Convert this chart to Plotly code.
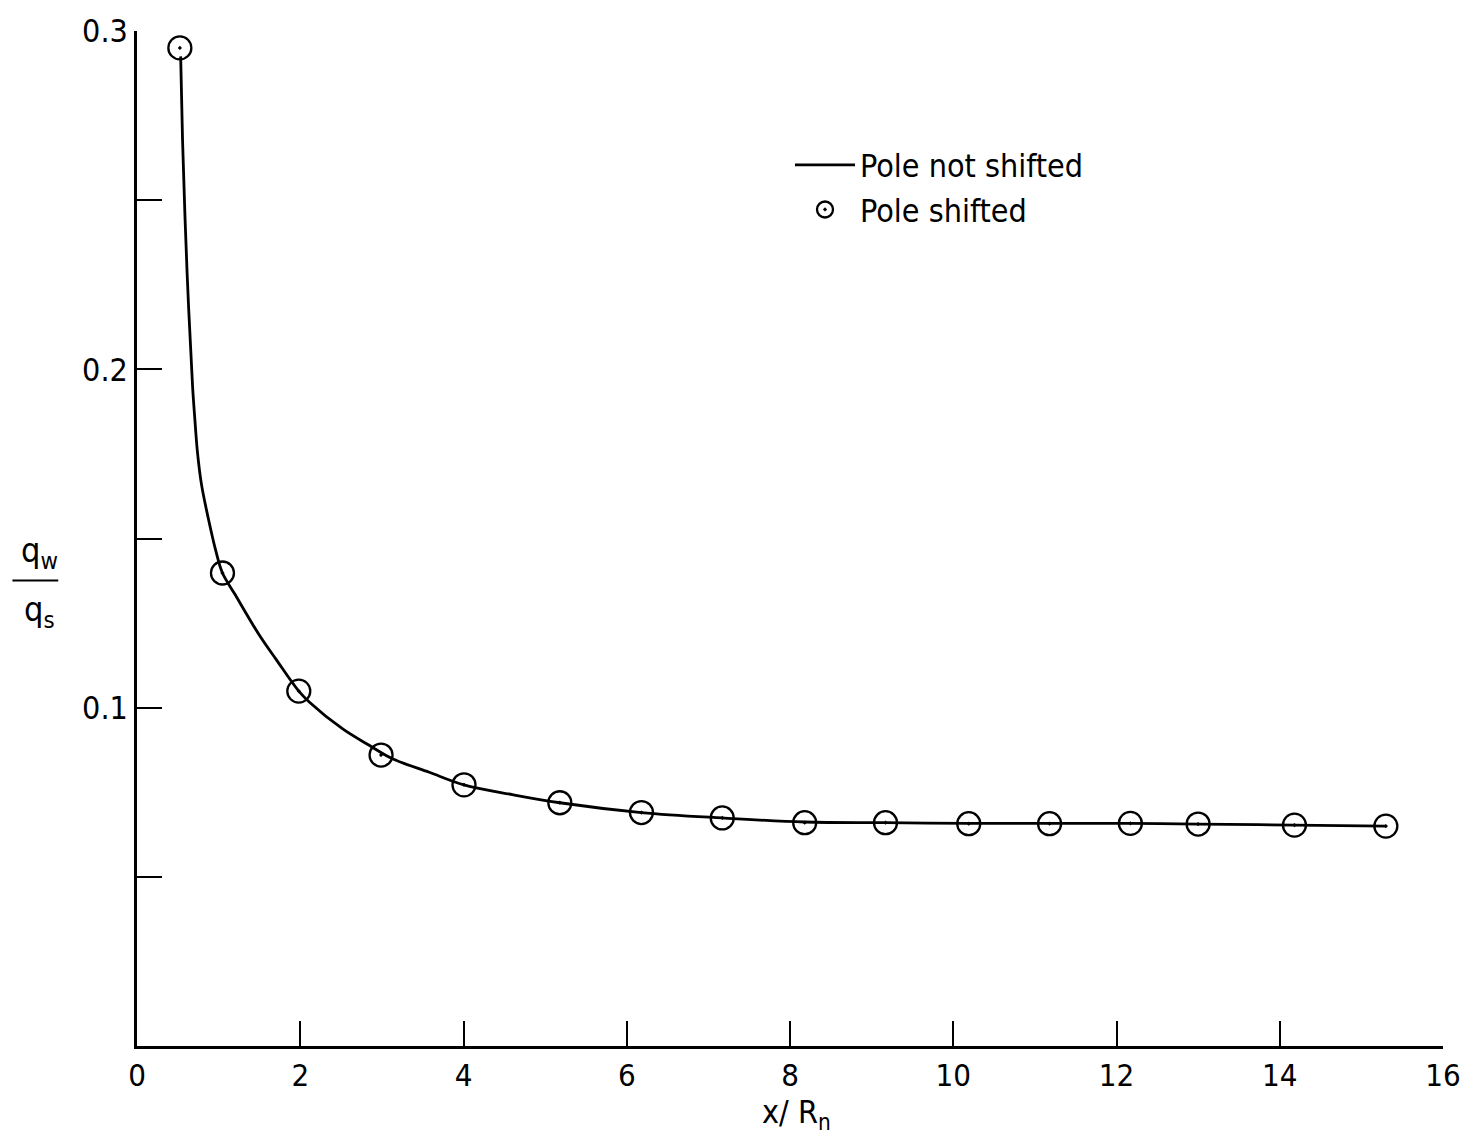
import plotly.graph_objects as go

# Curve: "Pole not shifted"
curve_x = [0.535, 0.558, 0.614, 0.68, 0.708, 0.74, 0.79, 0.871, 0.965, 1.047, 1.2, 1.502, 1.706, 1.982, 2.11, 2.52, 2.85, 3.13, 3.58, 4.006, 4.6, 5.18, 6.18, 7.17, 8.18, 9.17, 10.19, 11.18, 12.17, 13.0, 14.18, 15.30]
curve_y = [0.2925, 0.2677, 0.2284, 0.1953, 0.1855, 0.1757, 0.1660, 0.1562, 0.1464, 0.1398, 0.1335, 0.1213, 0.1142, 0.1049, 0.1017, 0.0937, 0.0888, 0.0849, 0.0809, 0.0772, 0.0743, 0.0719, 0.0690, 0.0674, 0.0662, 0.0660, 0.0658, 0.0658, 0.0658, 0.0656, 0.0653, 0.0650]

# Points: "Pole shifted"
pts_x = [0.525, 1.047, 1.982, 2.99, 4.006, 5.18, 6.18, 7.17, 8.18, 9.17, 10.19, 11.18, 12.17, 13.0, 14.18, 15.30]
pts_y = [0.2950, 0.1398, 0.1049, 0.0860, 0.0772, 0.0719, 0.0690, 0.0674, 0.0660, 0.0660, 0.0657, 0.0657, 0.0658, 0.0656, 0.0653, 0.0650]

x_ticks = [0, 2, 4, 6, 8, 10, 12, 14, 16]
y_ticks = [0.1, 0.2, 0.3]
y_ticktext = ["0.1", "0.2", "0.3"]
y_minor = [0.05, 0.15, 0.25]

FONT = "DejaVu Sans Condensed, DejaVu Sans, sans-serif"

fig = go.Figure()
fig.add_trace(go.Scatter(x=curve_x, y=curve_y, mode="lines", name="Pole not shifted",
                         line=dict(color="black", width=2.8, shape="spline", smoothing=1.0)))
fig.add_trace(go.Scatter(x=pts_x, y=pts_y, mode="markers", name="Pole shifted",
                         marker=dict(symbol="circle-open-dot", size=23, color="black",
                                     line=dict(color="black", width=2.3))))

fig.update_layout(
    width=1473, height=1141,
    margin=dict(l=137, r=26, t=23, b=95),
    plot_bgcolor="white", paper_bgcolor="white",
    font=dict(family=FONT, size=30, color="black"),
    showlegend=True,
    legend=dict(x=0.50, y=0.895, xanchor="left", yanchor="top",
                bgcolor="rgba(0,0,0,0)", font=dict(size=32, family=FONT),
                itemwidth=60, tracegroupgap=0),
    xaxis=dict(range=[0, 16], tickvals=x_ticks, ticks="inside", ticklen=25, tickwidth=2,
               tickcolor="black", showline=True, linecolor="black", linewidth=2.5,
               showgrid=False, zeroline=False, tickfont=dict(size=31, family=FONT)),
    yaxis=dict(range=[0, 0.3], tickvals=y_ticks, ticktext=y_ticktext, ticks="inside",
               ticklen=25, tickwidth=2, tickcolor="black", showline=True, linecolor="black",
               linewidth=2.5, showgrid=False, zeroline=False, tickfont=dict(size=32, family=FONT),
               minor=dict(tickvals=y_minor, ticks="inside", ticklen=25, tickwidth=2,
                          tickcolor="black", showgrid=False)),
)

# x-axis title
fig.add_annotation(text="x/ R<sub>n</sub>", xref="paper", yref="paper", x=0.505, y=-0.044,
                   xanchor="center", yanchor="top", showarrow=False, font=dict(size=32, family=FONT))
# y-axis title as a fraction
fig.add_annotation(text="q<sub>w</sub>", xref="paper", yref="paper", x=-0.075, y=0.462,
                   xanchor="center", yanchor="bottom", showarrow=False, font=dict(size=34, family=FONT))
fig.add_annotation(text="q<sub>s</sub>", xref="paper", yref="paper", x=-0.075, y=0.452,
                   xanchor="center", yanchor="top", showarrow=False, font=dict(size=34, family=FONT))
fig.add_shape(type="line", xref="paper", yref="paper", x0=-0.0954, x1=-0.0603, y0=0.4585, y1=0.4585,
              line=dict(color="black", width=2))

fig.write_html("out.html", config={"displayModeBar": False},
               post_script="document.body.style.margin='0';document.body.style.overflow='hidden';")
